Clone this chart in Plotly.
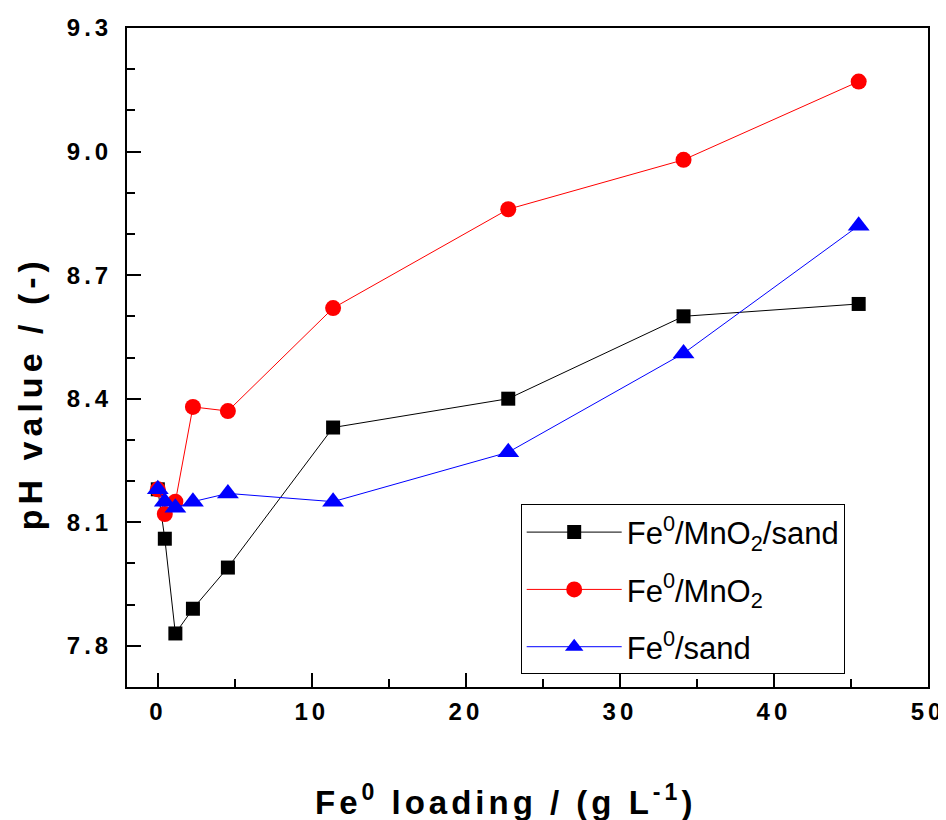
import plotly.graph_objects as go

# Data
fe_loading = [0, 0.455, 1.14, 2.28, 4.55, 11.38, 22.75, 34.13, 45.5]
ph_fe_mno2_sand = [8.18, 8.06, 7.83, 7.89, 7.99, 8.33, 8.40, 8.60, 8.63]
ph_fe_mno2 = [8.18, 8.12, 8.15, 8.38, 8.37, 8.62, 8.86, 8.98, 9.17]
ph_fe_sand = [8.18, 8.15, 8.135, 8.15, 8.17, 8.15, 8.27, 8.51, 8.82]

series_names = ["Fe<sup>0</sup>/MnO<sub>2</sub>/sand", "Fe<sup>0</sup>/MnO<sub>2</sub>", "Fe<sup>0</sup>/sand"]
x_ticks = [0, 10, 20, 30, 40, 50]
x_tick_text = ["0", "10", "20", "30", "40", "50"]
y_ticks = [7.8, 8.1, 8.4, 8.7, 9.0, 9.3]
y_tick_text = ["7.8", "8.1", "8.4", "8.7", "9.0", "9.3"]
x_title = "Fe<sup>0</sup> loading / (g L<sup>-1</sup>)"
y_title = "pH value / (-)"

FONT = "Liberation Sans, Arial, sans-serif"


def spaced(t, px):
    return f'<span style="letter-spacing:{px}px">{t}</span>'


fig = go.Figure()
styles = [
    dict(color="#000000", symbol="square", size=14),
    dict(color="#FF0000", symbol="circle", size=16),
    dict(color="#0000FF", symbol="triangle-up", size=19),
]
for i, (name, ys, st) in enumerate(zip(series_names, [ph_fe_mno2_sand, ph_fe_mno2, ph_fe_sand], styles)):
    fig.add_trace(go.Scatter(
        x=fe_loading, y=ys, name=name, mode="lines+markers",
        legendgroup=f"g{i}",
        line=dict(color=st["color"], width=1),
        marker=dict(symbol=st["symbol"], size=st["size"], color=st["color"], line=dict(width=0)),
    ))

axis_common = dict(
    showline=True, linecolor="black", linewidth=2, mirror=True,
    ticks="inside", ticklen=14, tickwidth=2, tickcolor="black",
    showgrid=False, zeroline=False, automargin=False,
    tickfont=dict(family=FONT, size=24, color="black", weight="bold"),
)

fig.update_xaxes(
    range=[-2, 50], tickvals=x_ticks, ticktext=[spaced(t, 4) for t in x_tick_text],
    minor=dict(dtick=5, tick0=0, ticks="inside", ticklen=8, tickwidth=2, tickcolor="black"),
    ticklabelstandoff=2,
    **axis_common,
)
fig.update_yaxes(
    range=[7.7, 9.3], tickvals=y_ticks, ticktext=[spaced(t, 4) for t in y_tick_text],
    minor=dict(dtick=0.1, tick0=7.7, ticks="inside", ticklen=8, tickwidth=2, tickcolor="black"),
    ticklabelstandoff=8,
    **axis_common,
)

fig.add_annotation(
    text="<b>" + spaced(x_title, 4) + "</b>", xref="paper", yref="paper",
    x=0.4725, y=-0.171, xanchor="center", yanchor="middle", showarrow=False,
    font=dict(family=FONT, size=33, color="black"),
)
fig.add_annotation(
    text="<b>" + spaced(y_title, 5) + "</b>", xref="paper", yref="paper",
    x=-0.121, y=0.446, xanchor="center", yanchor="middle", showarrow=False,
    textangle=-90,
    font=dict(family=FONT, size=34, color="black"),
)

fig.update_layout(
    width=938, height=812,
    margin=dict(l=119, r=18, t=20, b=133),
    plot_bgcolor="white", paper_bgcolor="white",
    font=dict(family=FONT, color="black"),
    legend=dict(
        x=0.4915, y=0.277, xanchor="left", yanchor="top",
        bgcolor="white", bordercolor="black", borderwidth=1,
        font=dict(family=FONT, size=31, color="black"),
        itemwidth=95, tracegroupgap=14,
    ),
)

fig.write_html("out.html")
